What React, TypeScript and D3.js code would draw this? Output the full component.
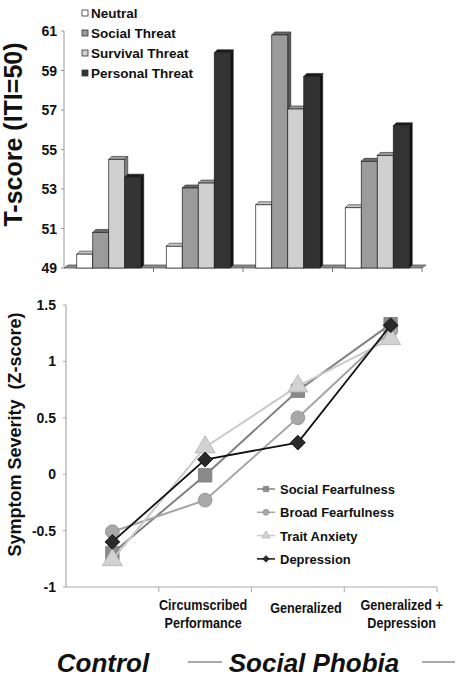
import React from "react";
import * as d3 from "d3";

const groups = ["Control", "Circumscribed Performance", "Generalized", "Generalized + Depression"];
const barSeries = ["Neutral", "Social Threat", "Survival Threat", "Personal Threat"];
const neutral = [49.7, 50.1, 52.2, 52.05];
const socialThreat = [50.8, 53.05, 60.8, 54.4];
const survivalThreat = [54.5, 53.3, 57.05, 54.7];
const personalThreat = [53.6, 59.9, 58.7, 56.2];
const tTicks = [49, 51, 53, 55, 57, 59, 61];

const lineSeries = ["Social Fearfulness", "Broad Fearfulness", "Trait Anxiety", "Depression"];
const socialFear = [-0.7, -0.01, 0.74, 1.33];
const broadFear = [-0.51, -0.23, 0.5, 1.27];
const traitAnx = [-0.76, 0.24, 0.78, 1.2];
const depression = [-0.6, 0.13, 0.28, 1.32];
const zTicks = [-1, -0.5, 0, 0.5, 1, 1.5];
const xLabelLines = [[], ["Circumscribed", "Performance"], ["Generalized"], ["Generalized +", "Depression"]];

const FONT = "'Liberation Sans', Arial, Helvetica, sans-serif";

const barValues = [neutral, socialThreat, survivalThreat, personalThreat];
const barFront = ["#ffffff", "#9b9b9b", "#d0d0d0", "#333333"];
const barTop = ["#c8c8c8", "#6a6a6a", "#9a9a9a", "#1a1a1a"];
const barSide = ["#8a8a8a", "#5a5a5a", "#8a8a8a", "#111111"];

const lineValues = [socialFear, broadFear, traitAnx, depression];
const lineColor = ["#808080", "#a4a4a4", "#cacaca", "#111111"];
const markFill = ["#8a8a8a", "#a8a8a8", "#d2d2d2", "#2a2a2a"];
const markStroke = ["#7a7a7a", "#8c8c8c", "#b0b0b0", "#111111"];
const markType = [d3.symbolSquare, d3.symbolCircle, d3.symbolTriangle, d3.symbolSquare];
const markRotate = [0, 0, 0, 45];

export default function App() {
  const W = 462, H = 678;
  // top chart
  const floorY = 268;
  const yT = d3.scaleLinear().domain([49, 61]).range([floorY, 31]);
  const x0 = d3.scaleBand().domain(groups).range([64, 422]).paddingInner(0.285).paddingOuter(0.1425);
  const x1 = d3.scaleBand().domain(barSeries).range([0, x0.bandwidth()]);
  const dep = 3;

  // bottom chart
  const yZ = d3.scaleLinear().domain([-1, 1.5]).range([587, 305]);
  const xB = d3.scaleBand().domain(groups).range([66, 437]);
  const cx = (g: string) => (xB(g) as number) + xB.bandwidth() / 2;

  const bigSym = (i: number) => {
    const sizes = [180, 150, 170, 110];
    return d3.symbol().type(markType[i]).size(sizes[i])() as string;
  };
  const smallSym = (i: number) => {
    const sizes = [30, 28, 32, 22];
    return d3.symbol().type(markType[i]).size(sizes[i])() as string;
  };
  const line = d3.line<number>().x((_, i) => cx(groups[i])).y((v) => yZ(v));

  const xLabelDx = [0, -2, 8, 11];

  return (
    <svg width={W} height={H} style={{ position: "absolute", left: 0, top: 0, background: "#fff" }} fontFamily={FONT}>
      {/* ---------- Top chart ---------- */}
      <text transform={`translate(22,${(31 + 238) / 2}) rotate(-90)`} textAnchor="middle" fontSize={25} fontWeight="bold" fill="#111">
        T-score (ITI=50)
      </text>
      <line x1={64} x2={64} y1={yT(61)} y2={floorY} stroke="#999" strokeWidth={1} />
      {tTicks.map((t) => (
        <g key={t}>
          <line x1={61} x2={64} y1={yT(t)} y2={yT(t)} stroke="#999" />
          <text x={57} y={yT(t) + 5} textAnchor="end" fontSize={14} fontWeight="bold" fill="#111">
            {t}
          </text>
        </g>
      ))}
      {/* floor */}
      <polygon
        points={`64,${floorY} 422,${floorY} ${422 + 4},${floorY - 3} ${64 + 4},${floorY - 3}`}
        fill="#8a8a8a"
        stroke="#555"
        strokeWidth={0.8}
      />
      {groups.map((g, gi) =>
        gi > 0 ? <line key={g} x1={x0.step() * gi + 64} x2={x0.step() * gi + 64} y1={floorY} y2={floorY + 4} stroke="#777" /> : null
      )}
      <line x1={422} x2={422} y1={floorY} y2={floorY + 4} stroke="#777" />
      {groups.map((g, gi) => (
        <g key={g}>
          {barSeries.map((s, si) => {
            const x = (x0(g) as number) + (x1(s) as number);
            const w = x1.bandwidth();
            const yt = yT(barValues[si][gi]);
            return (
              <g key={s}>
                <polygon
                  points={`${x + w},${yt} ${x + w + dep},${yt - dep} ${x + w + dep},${floorY - dep} ${x + w},${floorY}`}
                  fill={barSide[si]}
                  stroke="#222"
                  strokeWidth={0.6}
                />
                <polygon
                  points={`${x},${yt} ${x + dep},${yt - dep} ${x + w + dep},${yt - dep} ${x + w},${yt}`}
                  fill={barTop[si]}
                  stroke="#222"
                  strokeWidth={0.6}
                />
                <rect x={x} y={yt} width={w} height={floorY - yt} fill={barFront[si]} stroke="#222" strokeWidth={0.7} />
              </g>
            );
          })}
        </g>
      ))}
      {/* top legend */}
      {barSeries.map((s, si) => (
        <g key={s} transform={`translate(82,${13 + si * 20})`}>
          <rect x={0} y={-3} width={6} height={6} fill={barFront[si]} stroke="#333" strokeWidth={0.8} />
          <text x={9} y={5} fontSize={13.5} fontWeight="bold" fill="#111">
            {s}
          </text>
        </g>
      ))}

      {/* ---------- Bottom chart ---------- */}
      <text
        transform={`translate(21,${(307 + 562) / 2}) rotate(-90)`}
        textAnchor="middle"
        fontSize={18}
        fontWeight="bold"
        fill="#111"
        style={{ whiteSpace: "pre" }}
      >
        {"Symptom Severity  (Z-score)"}
      </text>
      <line x1={66} x2={66} y1={yZ(1.5)} y2={yZ(-1)} stroke="#aaa" strokeWidth={1.2} />
      {zTicks.map((t) => (
        <g key={t}>
          <line x1={63} x2={66} y1={yZ(t)} y2={yZ(t)} stroke="#aaa" />
          <text x={56} y={yZ(t) + 5} textAnchor="end" fontSize={14} fontWeight="bold" fill="#111">
            {String(t)}
          </text>
        </g>
      ))}
      <line x1={66} x2={437} y1={yZ(-1)} y2={yZ(-1)} stroke="#aaa" strokeWidth={1.2} />
      {groups.map((g) => (
        <line key={g} x1={(xB(g) as number) + xB.bandwidth()} x2={(xB(g) as number) + xB.bandwidth()} y1={587} y2={592} stroke="#aaa" />
      ))}
      {groups.map((g, gi) =>
        xLabelLines[gi].map((l, li) => (
          <text
            key={g + li}
            transform={`translate(${cx(g) + xLabelDx[gi]},${610 + li * 18 + (gi === 2 ? 3 : 0)}) scale(0.87,1)`}
            textAnchor="middle"
            fontSize={14.5}
            fontWeight="bold"
            fill="#111"
          >
            {l}
          </text>
        ))
      )}
      {lineSeries.map((s, si) => (
        <g key={s}>
          <path d={line(lineValues[si]) as string} fill="none" stroke={lineColor[si]} strokeWidth={si === 3 ? 1.8 : 2} />
          {lineValues[si].map((v, i) => (
            <path
              key={i}
              d={bigSym(si)}
              transform={`translate(${cx(groups[i])},${yZ(v)}) rotate(${markRotate[si]})`}
              fill={markFill[si]}
              stroke={markStroke[si]}
              strokeWidth={0.8}
            />
          ))}
        </g>
      ))}
      {/* bottom legend */}
      {lineSeries.map((s, si) => (
        <g key={s} transform={`translate(257,${489 + si * 23.3})`}>
          <line x1={0} x2={18} y1={0} y2={0} stroke={lineColor[si]} strokeWidth={1.5} />
          <path
            d={smallSym(si)}
            transform={`translate(9,0) rotate(${markRotate[si]})`}
            fill={markFill[si]}
            stroke={markStroke[si]}
            strokeWidth={0.6}
          />
          <text x={23} y={5} fontSize={13} fontWeight="bold" fill="#111">
            {s}
          </text>
        </g>
      ))}

      {/* group captions */}
      <text x={103} y={672} textAnchor="middle" fontSize={26} fontWeight="bold" fontStyle="italic" fill="#111">
        Control
      </text>
      <line x1={188} x2={222} y1={662} y2={662} stroke="#555" strokeWidth={1} />
      <text x={314} y={672} textAnchor="middle" fontSize={26} fontWeight="bold" fontStyle="italic" fill="#111">
        Social Phobia
      </text>
      <line x1={422} x2={455} y1={662} y2={662} stroke="#555" strokeWidth={1} />
    </svg>
  );
}
